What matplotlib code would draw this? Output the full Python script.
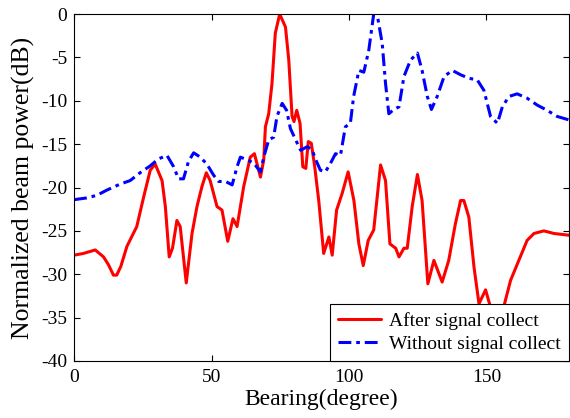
import matplotlib
matplotlib.use("Agg")
import matplotlib.pyplot as plt

plt.rcParams['font.family'] = ['Liberation Serif', 'DejaVu Serif']
plt.rcParams['mathtext.fontset'] = 'stix'

# Beam power after signal collection (red, solid)
after_deg = [0, 3.4, 7.7, 10.7, 12.5, 14.3, 15.5, 17, 19.2, 22.8, 25.3, 27.7, 29.5, 32,
             33.2, 34.6, 35.8, 37.4, 38.6, 40.8, 42.9, 44.7, 46.5, 48.1, 49.5, 52, 53.8,
             55.9, 57.8, 59.3, 61.7, 64.1, 65.6, 67.8, 69, 69.6, 70.8, 72, 73.2, 74.8,
             76.9, 78.1, 79.3, 80, 81, 82.2, 83.2, 84.3, 85.2, 86.3, 87.5, 89, 90.8,
             92.7, 93.9, 95.5, 97.5, 99.7, 101.8, 103.6, 105.2, 107, 109, 111.5, 113.3,
             114.9, 117, 118.2, 120, 121.2, 123, 124.9, 126.6, 128.7, 130.9, 133.9,
             136.3, 138.7, 140.6, 141.8, 143.6, 145.5, 147.3, 149.7, 151.5, 153.8,
             156.6, 158.8, 161.8, 164.8, 167.3, 170.9, 174.6, 180]
after_db = [-27.8, -27.6, -27.2, -28, -28.9, -30.1, -30.1, -29.1, -26.8, -24.5, -21.1, -18,
            -17.3, -19.2, -22.2, -28, -27, -23.8, -24.5, -31, -25.3, -22.2, -19.9, -18.3,
            -19.2, -22.2, -22.6, -26.2, -23.6, -24.5, -19.9, -16.5, -16.1, -18.8, -16.8,
            -13, -11.5, -8, -2.2, 0, -1.5, -5.3, -11.8, -12.4, -11.1, -12.6, -17.6,
            -17.8, -14.7, -14.9, -17.5, -21.5, -27.6, -25.7, -27.8, -22.6, -20.7, -18.2,
            -21.5, -26.5, -29, -26.1, -24.9, -17.4, -19.2, -26.5, -27, -28, -27, -27,
            -22.2, -18.5, -21.5, -31.1, -28.4, -30.9, -28.4, -24.2, -21.5, -21.5, -23.4,
            -29.2, -33.4, -31.8, -33.8, -36.5, -33.4, -30.7, -28.4, -26.1, -25.3, -25,
            -25.3, -25.5]

# Beam power without signal collection (blue, dash-dot)
without_deg = [0, 4.6, 8.3, 11.9, 16.8, 20.4, 24, 27.7, 30.7, 33.8, 36.2, 38, 39.8, 41.6,
               43.5, 45.9, 48.3, 50.8, 52.6, 55.1, 57.5, 59.3, 60.5, 63, 65.4, 67.8, 69,
               70.8, 72.6, 73.8, 75.7, 77.3, 78.7, 80.6, 82.4, 84.8, 86.5, 88.2, 89.6,
               91.4, 93.3, 95.1, 96.9, 98.7, 100.5, 101.7, 103.6, 105.4, 107.2, 109,
               110.5, 112.1, 113.3, 114.5, 116.3, 118.2, 120, 122.4, 124.9, 126.6, 128.5,
               130, 132.1, 134.6, 137.6, 140.6, 143.6, 146.7, 149.1, 151.5, 154, 155.8,
               158.2, 161.2, 164.8, 168.5, 172.1, 175.7, 180]
without_db = [-21.4, -21.2, -20.9, -20.3, -19.6, -19.2, -18.3, -17.5, -16.7, -16.3, -17.6,
              -19, -19, -17, -16, -16.5, -17.3, -18.6, -19.3, -19.3, -19.7, -17.6, -16.5,
              -16.8, -17.2, -18.2, -16.5, -14.5, -14.2, -11.8, -10.3, -11.1, -13.2, -14.5,
              -15.7, -15.3, -15.6, -17, -18, -18.2, -17.2, -16.1, -16.3, -13, -12.6, -9.5,
              -6.5, -6.7, -4.2, 0, -0.5, -3.4, -8, -11.5, -11, -10.7, -7.2, -5.3, -4.5,
              -6.5, -9.5, -11, -9.5, -7.2, -6.5, -7, -7.4, -7.6, -8.8, -11.8, -12.6,
              -10.7, -9.5, -9.2, -9.7, -10.5, -11.1, -11.8, -12.2]

x_ticks = [0, 50, 100, 150]
y_ticks = [0, -5, -10, -15, -20, -25, -30, -35, -40]

fig = plt.figure(figsize=(5.70, 4.18), dpi=100)
ax = fig.add_axes([0.130, 0.1364, 0.868, 0.830])

ax.plot(after_deg, after_db, color='#ff0000', lw=2.2, label='After signal collect',
        solid_joinstyle='round', solid_capstyle='round')
ax.plot(without_deg, without_db, color='#0000ff', lw=2.2, ls='-.',
        dashes=(4.2, 1.6, 1.2, 1.6), dash_joinstyle='round',
        label='Without signal collect')

ax.set_xlim(0, 180)
ax.set_ylim(-40, 0)
ax.set_xticks(x_ticks)
ax.set_yticks(y_ticks)
ax.set_yticklabels([str(v) for v in y_ticks])
ax.tick_params(direction='in', top=True, right=True, labelsize=14, length=4, width=0.8)
ax.tick_params(axis='x', pad=6)
ax.tick_params(axis='y', pad=5)
for s in ax.spines.values():
    s.set_linewidth(0.8)

ax.set_xlabel('Bearing(degree)', fontsize=17, labelpad=2)
ax.set_ylabel('Normalized beam power(dB)', fontsize=18.5, labelpad=4)

leg = ax.legend(loc='lower right', fontsize=14, frameon=True, fancybox=False,
                edgecolor='black', framealpha=1, borderaxespad=0, handlelength=2.2,
                handletextpad=0.45, borderpad=0.4, labelspacing=0.3)
leg.get_frame().set_linewidth(0.8)

fig.savefig('out.png', dpi=100)
